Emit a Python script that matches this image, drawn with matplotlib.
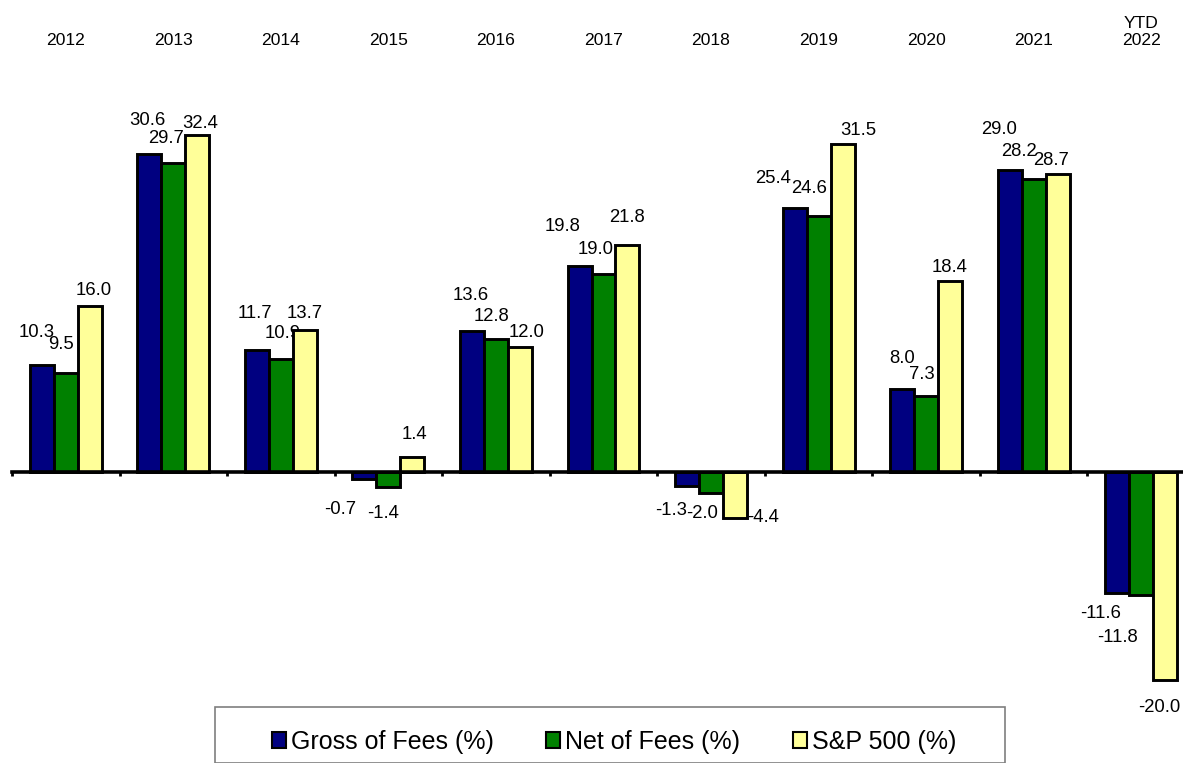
import numpy as np
import matplotlib
matplotlib.use("Agg")
import matplotlib.pyplot as plt
import matplotlib.transforms as mtransforms
from matplotlib.patches import Patch, Rectangle

plt.rcParams['font.family'] = ['Liberation Sans', 'DejaVu Sans']

# data
years = ['2012', '2013', '2014', '2015', '2016', '2017', '2018', '2019', '2020', '2021', 'YTD\n2022']
gross = [10.3, 30.6, 11.7, -0.7, 13.6, 19.8, -1.3, 25.4, 8.0, 29.0, -11.6]
net = [9.5, 29.7, 10.9, -1.4, 12.8, 19.0, -2.0, 24.6, 7.3, 28.2, -11.8]
sp500 = [16.0, 32.4, 13.7, 1.4, 12.0, 21.8, -4.4, 31.5, 18.4, 28.7, -20.0]
series_names = ['Gross of Fees (%)', 'Net of Fees (%)', 'S&P 500 (%)']

# label nudges (pixels, dx right / dy down) - excel put them kind of all over
gross_off = [(-5, -32), (-2, -33), (-2, -37), (-24, 30), (-1, -35), (-17, -40),
             (-16, 25), (-22, -29), (0, -30), (-11, -41), (-17, 21)]
net_off = [(-5, -29), (-7, -25), (2, -25), (-5, 27), (-4, -22), (-8, -25),
           (-9, 21), (-10, -28), (-4, -22), (-15, -27), (-24, 43)]
sp_off = [(4, -15), (3, -12), (0, -16), (2, -23), (7, -15), (0, -28),
          (28, 0), (16, -14), (-1, -13), (-7, -13), (-6, 27)]

colors = ['#000080', '#008000', '#FFFF99']
W, H = 1183, 763
fig = plt.figure(figsize=(W / 100, H / 100), dpi=100)
# axes right edge runs a bit past the picture like the original
ax = fig.add_axes([12 / W, (H - 700) / H, (1195 - 12) / W, 600 / H])

x = np.arange(len(years))
bw = 0.223
px = 72 / 100  # pixels -> points

for k, (vals, offs) in enumerate([(gross, gross_off), (net, net_off), (sp500, sp_off)]):
    xs = x + (k - 1) * bw
    ax.bar(xs, vals, bw, color=colors[k], edgecolor='black', linewidth=2.1, zorder=3)
    for xi, v, (dx, dy) in zip(xs, vals, offs):
        ax.annotate(f'{v:.1f}', (xi, v), xytext=(dx * px, -dy * px), textcoords='offset points',
                    ha='center', va='center', fontsize=13.3, color='black')

ax.set_xlim(-0.5, len(years) - 0.5)
ax.set_ylim(-(700 - 472) / 10.4, (472 - 100) / 10.4)
for s in ['top', 'right', 'left']:
    ax.spines[s].set_visible(False)
ax.spines['bottom'].set_position(('data', 0))
ax.spines['bottom'].set_linewidth(2.6)
ax.spines['bottom'].set_zorder(4)
ax.set_yticks([])
ax.set_xticks(np.arange(len(years)) - 0.5)
ax.set_xticklabels([])
ax.tick_params(axis='x', length=3, width=2, direction='out')

# year labels across the top
trans = mtransforms.blended_transform_factory(ax.transData, fig.transFigure)
for xi, lab in zip(x, years):
    ax.text(xi, 1 - 48 / H, lab, transform=trans, ha='center', va='bottom',
            fontsize=12.6, multialignment='center', linespacing=1.2)

# legend with its own box, cut off at the bottom like the source
fig.patches.append(Rectangle((215 / W, 0), (1005 - 215) / W, (H - 715) / H + 0.01,
                             transform=fig.transFigure, fill=False, edgecolor='#7f7f7f',
                             linewidth=1.2))
handles = [Patch(facecolor=c, edgecolor='black', linewidth=1.5) for c in colors]
fig.legend(handles, series_names, loc='center', bbox_to_anchor=(614 / W, 1 - 742 / H),
           ncol=3, frameon=False, fontsize=18, handlelength=0.56, handleheight=0.64,
           handletextpad=0.2, columnspacing=2.1, borderaxespad=0)

fig.savefig('out.png', dpi=100)
